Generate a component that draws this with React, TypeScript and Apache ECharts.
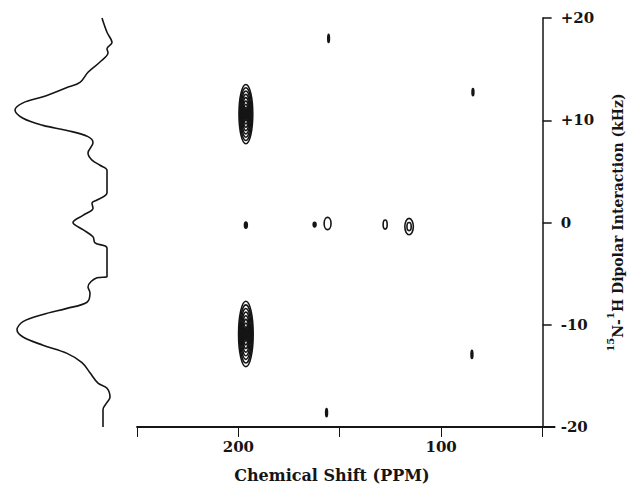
import React, { useEffect, useRef } from 'react';
import * as echarts from 'echarts';

// Axis ticks / labels
const xTickValues = [250, 200, 150, 100, 50];
const xLabelValues = [200, 100];

// Projection (left trace): dipolar frequency (kHz) and intensity (arb. units)
const projKHz = [
  20.0, 18.6, 17.6, 17.0, 16.6, 15.7, 14.7, 13.7, 13.2, 12.3, 11.7, 11.0, 10.2, 9.5, 9.0, 8.4, 7.8, 6.8, 6.1, 5.6,
  5.1, 2.9, 2.2, 1.9, 1.4, 0.7, 0.0, -0.7, -1.4, -2.0, -2.5, -5.3, -5.4, -6.3, -6.9, -7.8, -8.4, -9.0, -9.7, -10.5,
  -11.2, -12.0, -12.8, -13.7, -14.7, -15.7, -16.2, -17.1, -17.6, -18.3, -20.0,
];
const projIntensity = [
  6, 1, -4, 1, 0, 8, 20, 28, 41, 65, 85, 93, 85, 65, 41, 20, 15, 20, 16, 8,
  1, 1, 11, 16, 15, 25, 35, 25, 15, 13, 1, 1, 11, 20, 18, 21, 41, 65, 85, 91,
  85, 65, 41, 26, 18, 10, 1, -2, 1, 5, 5,
];

// Contour peaks: chemical shift (ppm), dipolar (kHz), widths, number of contour levels
const peakPpm = [196.3, 196.3, 155.5, 84.3, 84.8, 156.5, 196.3, 162.4, 156.0, 127.6, 115.8];
const peakKHz = [10.6, -10.9, 18.0, 12.75, -12.9, -18.6, -0.25, -0.2, -0.1, -0.2, -0.4];
const peakWidthPpm = [6.8, 7.2, 0.8, 0.9, 0.9, 0.9, 1.4, 1.4, 3.4, 2.0, 4.2];
const peakHeightKHz = [5.8, 6.4, 0.8, 0.7, 0.8, 0.8, 0.6, 0.45, 1.2, 0.9, 1.6];
const peakLevels = [9, 9, 1, 1, 1, 1, 1, 1, 1, 1, 2];

const FONT = 'DejaVu Serif';
const INK = '#151515';

export default function App() {
  const ref = useRef<HTMLDivElement>(null);

  useEffect(() => {
    if (!ref.current) return;
    const chart = echarts.init(ref.current, undefined, { renderer: 'svg' });

    const contourData: number[][] = [];
    peakPpm.forEach((p, i) => {
      const n = peakLevels[i];
      for (let k = 0; k < n; k++) {
        const s = 1 - k / n;
        contourData.push([p, peakKHz[i], peakWidthPpm[i] * s, peakHeightKHz[i] * s]);
      }
    });

    const projData = projIntensity.map((v, i) => [v, projKHz[i]]);

    const option: any = {
      animation: false,
      backgroundColor: '#ffffff',
      grid: [
        { left: 8, top: 18, width: 105, height: 409 },
        { left: 137, top: 18, width: 418, height: 409 },
      ],
      xAxis: [
        { gridIndex: 0, type: 'value', min: -5, max: 100, inverse: true, show: false },
        {
          gridIndex: 1,
          type: 'value',
          min: 44,
          max: 250,
          inverse: true,
          splitLine: { show: false },
          axisLine: { onZero: false, lineStyle: { color: INK, width: 1.8 } },
          axisTick: { customValues: xTickValues, length: 10, lineStyle: { color: INK, width: 1 } },
          axisLabel: {
            customValues: xLabelValues,
            margin: 12,
            color: INK,
            fontFamily: FONT,
            fontWeight: 'bold',
            fontSize: 15,
          },
          name: 'Chemical Shift (PPM)',
          nameLocation: 'middle',
          nameGap: 40,
          nameTextStyle: { color: INK, fontFamily: FONT, fontWeight: 'bold', fontSize: 16, padding: [0, 28, 0, 0] },
        },
      ],
      yAxis: [
        { gridIndex: 0, type: 'value', min: -20, max: 20, show: false },
        {
          gridIndex: 1,
          type: 'value',
          min: -20,
          max: 20,
          interval: 10,
          position: 'right',
          offset: -12,
          splitLine: { show: false },
          axisLine: { onZero: false, lineStyle: { color: INK, width: 1.5 } },
          axisTick: { length: 9, lineStyle: { color: INK, width: 1.5 } },
          axisLabel: {
            margin: 18,
            color: INK,
            fontFamily: FONT,
            fontWeight: 'bold',
            fontSize: 15,
            formatter: (v: number) => (v > 0 ? '+' + v : String(v)),
          },
          name: '{s|15}{t|N-}{s|1}{t|H Dipolar Interaction (kHz)}',
          nameLocation: 'middle',
          nameRotate: 90,
          nameGap: 50,
          nameTextStyle: {
            rich: {
              s: { fontSize: 10, fontFamily: FONT, fontWeight: 'bold', color: INK, verticalAlign: 'top', lineHeight: 20 },
              t: { fontSize: 14, fontFamily: FONT, fontWeight: 'bold', color: INK, verticalAlign: 'bottom', lineHeight: 20 },
            },
          },
        },
      ],
      series: [
        {
          type: 'line',
          xAxisIndex: 0,
          yAxisIndex: 0,
          data: projData,
          smooth: 0.35,
          showSymbol: false,
          lineStyle: { color: INK, width: 1.6 },
        },
        {
          type: 'custom',
          xAxisIndex: 1,
          yAxisIndex: 1,
          data: contourData,
          renderItem: (params: any, api: any) => {
            const c = api.coord([api.value(0), api.value(1)]);
            const s = api.size([api.value(2), api.value(3)]);
            const filled = s[0] < 4;
            return {
              type: 'ellipse',
              shape: { cx: c[0], cy: c[1], rx: Math.max(s[0] / 2, 0.8), ry: s[1] / 2 },
              style: { fill: filled ? INK : 'none', stroke: INK, lineWidth: 1.6 },
            };
          },
        },
      ],
    };

    chart.setOption(option);
    return () => chart.dispose();
  }, []);

  return <div ref={ref} style={{ position: 'absolute', left: 0, top: 0, width: 633, height: 491 }} />;
}
